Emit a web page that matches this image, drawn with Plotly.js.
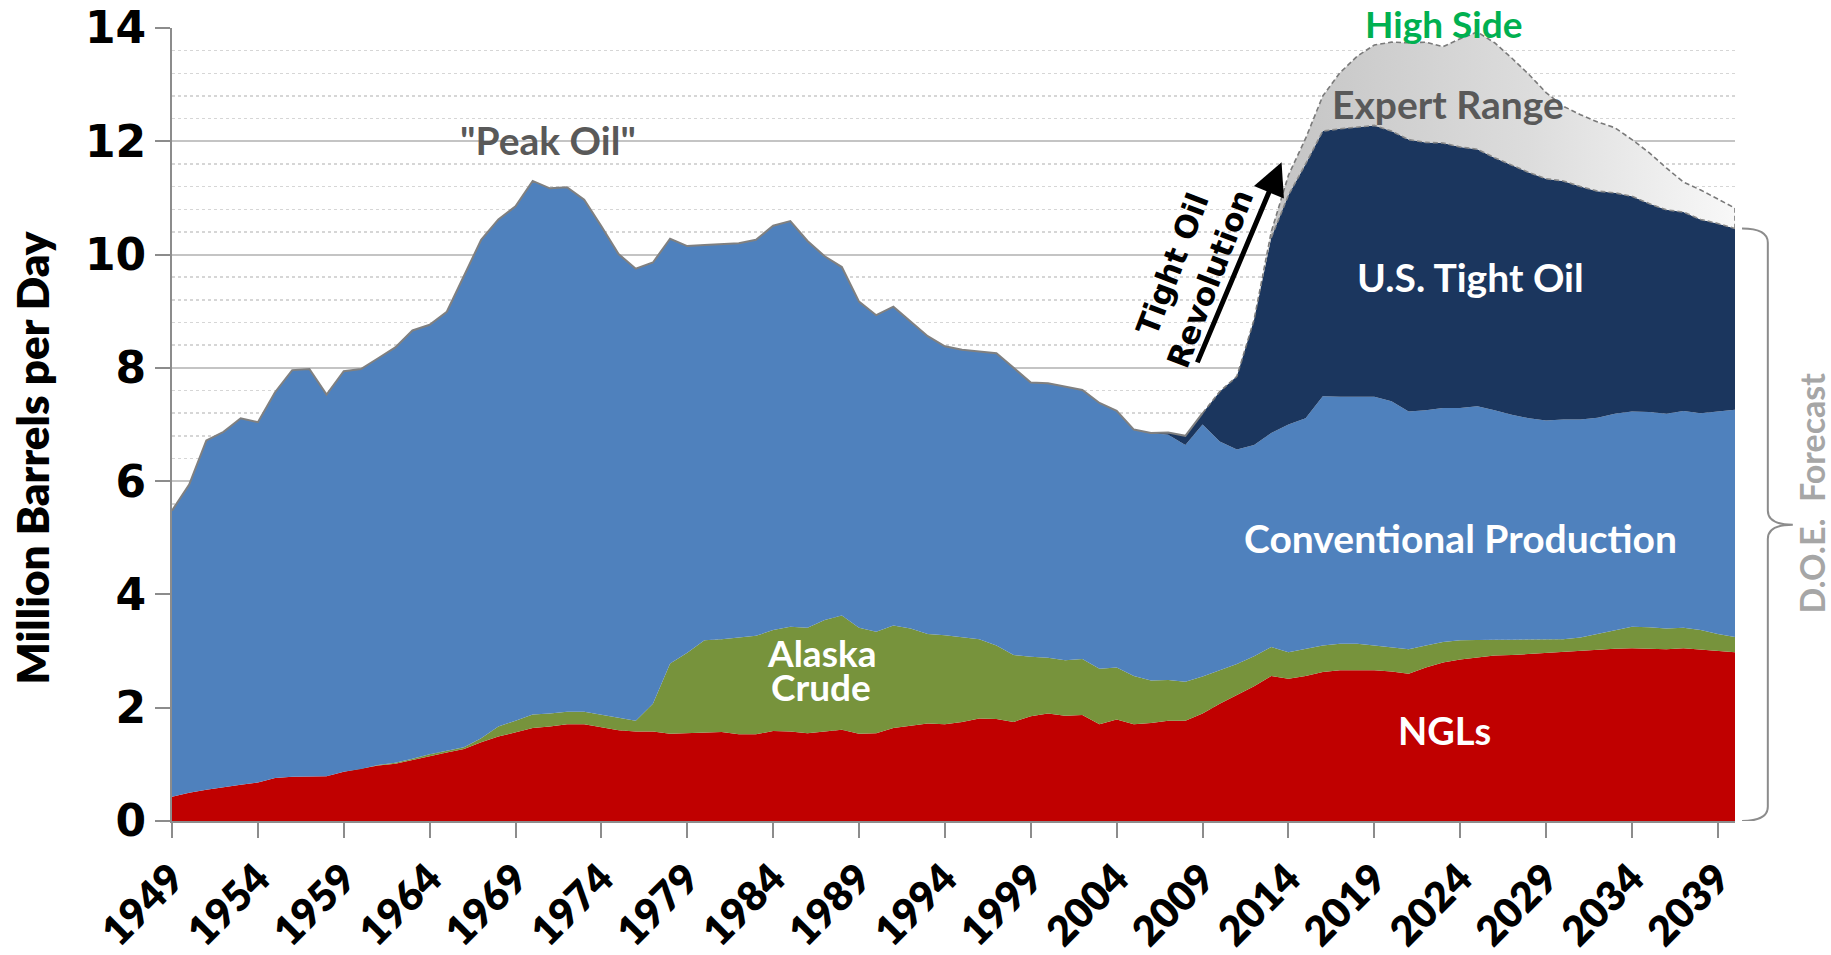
<!DOCTYPE html>
<html>
<head>
<meta charset="utf-8">
<script src="https://cdn.plot.ly/plotly-3.0.1.min.js"></script>
<style>
  html, body { margin: 0; padding: 0; background: #ffffff; }
  #chart { width: 1831px; height: 955px; }
</style>
</head>
<body>
<div id="chart"></div>
<script>
// ---------------- DATA (million barrels per day) ----------------
const firstYear = 1949;
const lastYear = 2040;
const years = [];
for (let y = firstYear; y <= lastYear; y++) years.push(y);

// NGLs (bottom layer), 1949-2040
const ngl = [
  0.43,0.50,0.55,0.60,0.64,0.68,0.76,0.78,0.79,0.79,
  0.87,0.92,0.98,1.01,1.08,1.15,1.21,1.27,1.39,1.49,
  1.57,1.64,1.67,1.71,1.71,1.66,1.60,1.58,1.58,1.54,
  1.55,1.55,1.57,1.53,1.53,1.59,1.58,1.55,1.58,1.61,
  1.54,1.55,1.64,1.68,1.72,1.71,1.75,1.81,1.80,1.75,
  1.85,1.90,1.86,1.87,1.71,1.79,1.71,1.73,1.77,1.77,
  1.90,2.07,2.22,2.38,2.56,2.51,2.56,2.63,2.66,2.66,
  2.66,2.64,2.60,2.71,2.80,2.85,2.89,2.92,2.93,2.95,
  2.96,2.98,3.01,3.03,3.04,3.05,3.04,3.03,3.05,3.03,
  3.01,2.98
];

// Alaska crude, 1949-2040
const alaska = [
  0,0,0,0,0,0,0,0,0,0,
  0,0,0.01,0.02,0.02,0.03,0.03,0.03,0.07,0.18,
  0.20,0.24,0.23,0.22,0.22,0.22,0.22,0.19,0.49,1.24,
  1.42,1.64,1.64,1.71,1.74,1.78,1.85,1.86,1.97,2.02,
  1.87,1.79,1.81,1.72,1.58,1.57,1.49,1.40,1.30,1.18,
  1.05,0.98,0.98,0.99,0.98,0.92,0.85,0.75,0.72,0.69,
  0.65,0.59,0.55,0.53,0.51,0.47,0.48,0.47,0.47,0.47,
  0.44,0.42,0.43,0.39,0.36,0.34,0.31,0.28,0.27,0.25,
  0.24,0.23,0.23,0.27,0.33,0.38,0.38,0.37,0.36,0.34,
  0.29,0.27
];

// Conventional production, 1949-2040
const conventional = [
  5.05,5.44,6.17,6.27,6.47,6.36,6.81,7.18,7.19,6.74,
  7.07,7.06,7.18,7.33,7.56,7.58,7.75,8.32,8.80,8.95,
  9.08,9.42,9.27,9.26,9.04,8.62,8.19,7.98,7.79,7.50,
  7.18,6.98,6.98,6.96,6.99,7.14,7.16,6.83,6.42,6.15,
  5.76,5.59,5.63,5.42,5.26,5.10,5.08,5.08,5.16,5.07,
  4.84,4.85,4.83,4.75,4.69,4.53,4.35,4.37,4.33,4.18,
  4.45,4.04,3.79,3.73,3.78,4.02,4.07,4.40,4.36,4.36,
  4.39,4.35,4.20,4.15,4.13,4.10,4.12,4.05,3.97,3.91,
  3.87,3.88,3.85,3.82,3.82,3.80,3.80,3.79,3.83,3.83,
  3.93,4.01
];

// U.S. tight oil, 2007-2040
const tightYears = [];
for (let y = 2007; y <= lastYear; y++) tightYears.push(y);
const tightOil = [
  0.04,0.16,
  0.20,0.88,1.29,2.21,3.45,4.05,4.49,4.68,4.73,4.76,
  4.79,4.77,4.80,4.73,4.68,4.61,4.54,4.46,4.41,4.34,
  4.27,4.21,4.11,4.00,3.90,3.80,3.68,3.60,3.51,3.42,
  3.32,3.20
];

// Expert range, high side total, 2013-2040
const highYears = [];
for (let y = 2013; y <= lastYear; y++) highYears.push(y);
const highSide = [
  10.40,11.40,12.05,12.80,13.21,13.50,13.70,13.75,13.74,13.75,
  13.67,13.81,13.93,13.74,13.47,13.18,12.86,12.62,12.47,12.34,
  12.24,12.03,11.80,11.53,11.28,11.14,10.98,10.82
];

const yTicks = [0, 2, 4, 6, 8, 10, 12, 14];
const yMax = 14;

// ---------------- DERIVED (for library) ----------------
const tightByYear = {};
tightYears.forEach((y, i) => { tightByYear[y] = tightOil[i]; });
const total = years.map((y, i) => ngl[i] + alaska[i] + conventional[i] + (tightByYear[y] || 0));
const totalByYear = {};
years.forEach((y, i) => { totalByYear[y] = total[i]; });
const expertRange = highYears.map((y, i) => Math.max(0, highSide[i] - totalByYear[y]));

const histX = years.filter(y => y <= 2009);
const histY = histX.map(y => totalByYear[y]);
const dashX = [], dashY = [];
years.filter(y => y >= 2009 && y < 2013).forEach(y => { dashX.push(y); dashY.push(totalByYear[y]); });
highYears.forEach((y, i) => { dashX.push(y); dashY.push(highSide[i]); });
dashX.push(lastYear); dashY.push(totalByYear[lastYear]);
const topTightY = highYears.map(y => totalByYear[y]);

const FONT = 'Lato, "Open Sans", "DejaVu Sans", sans-serif';
const WIDE = '"DejaVu Sans", Verdana, sans-serif';

const traces = [
  { x: years, y: ngl, name: 'NGLs', type: 'scatter', mode: 'lines', stackgroup: 'one',
    line: { width: 0 }, fillcolor: '#C00000' },
  { x: years, y: alaska, name: 'Alaska Crude', type: 'scatter', mode: 'lines', stackgroup: 'one',
    line: { width: 0 }, fillcolor: '#77933C' },
  { x: years, y: conventional, name: 'Conventional Production', type: 'scatter', mode: 'lines', stackgroup: 'one',
    line: { width: 0 }, fillcolor: '#4F81BD' },
  { x: tightYears, y: tightOil, name: 'U.S. Tight Oil', type: 'scatter', mode: 'lines', stackgroup: 'one',
    line: { width: 0 }, fillcolor: '#1B365E' },
  { x: highYears, y: expertRange, name: 'Expert Range', type: 'scatter', mode: 'lines', stackgroup: 'one',
    line: { width: 0 }, fillcolor: '#dddddd',
    fillgradient: { type: 'horizontal', start: 2013, stop: 2040,
      colorscale: [[0, '#c4c4c4'], [0.55, '#dcdcdc'], [1, '#f8f8f8']] } },
  { x: histX, y: histY, name: 'Total', type: 'scatter', mode: 'lines',
    line: { color: '#808080', width: 2 }, showlegend: false },
  { x: dashX, y: dashY, name: 'High Side', type: 'scatter', mode: 'lines',
    line: { color: '#7a7a7a', width: 1.6, dash: '5px,3px' }, showlegend: false },
  { x: highYears, y: topTightY, name: 'Tight top', type: 'scatter', mode: 'lines',
    line: { color: '#8a8a8a', width: 1.6, dash: '5px,3px' }, showlegend: false }
];

const white = '#ffffff';
const annotations = [
  { xref: 'paper', yref: 'y', x: (31.5 - 172) / 1563, y: 6.41, xanchor: 'center', yanchor: 'middle',
    text: 'Million Barrels per Day', showarrow: false, textangle: -90,
    font: { family: FONT, size: 44, color: '#000000', weight: 800 } },
  { x: 1970.9, y: 12.03, text: '<b>"Peak Oil"</b>', showarrow: false,
    font: { family: FONT, size: 39, color: '#595959' } },
  { x: 2023.0, xref: 'x', yref: 'paper', y: 14.08 / yMax, yanchor: 'middle', xanchor: 'center',
    text: '<b>High Side</b>', showarrow: false, borderpad: 0,
    font: { family: FONT, size: 37, color: '#00B050' } },
  { x: 2023.3, y: 12.65, text: '<b>Expert Range</b>', showarrow: false,
    font: { family: FONT, size: 39, color: '#595959' } },
  { x: 2024.6, y: 9.6, text: '<b>U.S. Tight Oil</b>', showarrow: false,
    font: { family: FONT, size: 39, color: white } },
  { x: 2024.0, y: 5.0, text: '<b>Conventional Production</b>', showarrow: false,
    font: { family: FONT, size: 39, color: white } },
  { x: 2023.1, y: 1.61, text: '<b>NGLs</b>', showarrow: false,
    font: { family: FONT, size: 38, color: white } },
  { x: 1986.8, y: 2.97, text: '<b>Alaska</b>', showarrow: false, borderpad: 0,
    font: { family: FONT, size: 37, color: white } },
  { x: 1986.8, y: 2.37, text: '<b>Crude</b>', showarrow: false, borderpad: 0,
    font: { family: FONT, size: 37, color: white } },
  { x: 2008.3, y: 9.7, text: '<b>Tight Oil<br>Revolution</b>', showarrow: false, textangle: -69,
    font: { family: WIDE, size: 31, color: '#000000' }, align: 'center' },
  { x: 2013.6, y: 11.63, ax: 2008.66, ay: 8.07, xref: 'x', yref: 'y', axref: 'x', ayref: 'y',
    text: '', showarrow: true, arrowhead: 2, arrowsize: 1.3, arrowwidth: 5, arrowcolor: '#000000' },
  { xref: 'paper', yref: 'y', x: (1812 - 172) / 1563, y: 5.78, xanchor: 'center', yanchor: 'middle',
    text: '<b>D.O.E.&nbsp; Forecast</b>', showarrow: false,
    textangle: -90, font: { family: FONT, size: 34, color: '#A6A6A6' } }
];

const braceTop = totalByYear[lastYear];
const braceMid = braceTop / 2;
const shapes = [
  { type: 'path', xref: 'paper', yref: 'y',
    path: 'M 1.0045,' + braceTop +
          ' Q 1.021,' + braceTop + ' 1.021,' + (braceTop - 0.25) +
          ' L 1.021,' + (braceMid + 0.25) +
          ' Q 1.021,' + braceMid + ' 1.037,' + braceMid +
          ' Q 1.021,' + braceMid + ' 1.021,' + (braceMid - 0.25) +
          ' L 1.021,0.25' +
          ' Q 1.021,0 1.0045,0',
    line: { color: '#8c8c8c', width: 2 } }
];

const layout = {
  width: 1831, height: 955,
  margin: { l: 172, r: 96, t: 28, b: 134, autoexpand: false },
  paper_bgcolor: '#ffffff', plot_bgcolor: '#ffffff',
  showlegend: false,
  font: { family: FONT, color: '#000000' },
  xaxis: {
    type: 'linear', range: [firstYear, lastYear], tick0: firstYear, dtick: 5,
    showgrid: false, zeroline: false,
    showline: true, linecolor: '#8c8c8c', linewidth: 2,
    ticks: 'outside', ticklen: 15, tickwidth: 2, tickcolor: '#8c8c8c',
    tickangle: -45, tickformat: 'd',
    tickfont: { family: FONT, size: 41, color: '#000000', weight: 800 },
    automargin: false
  },
  yaxis: {
    range: [0, yMax], tickvals: yTicks, ticktext: yTicks.map(String),
    showgrid: true, gridcolor: '#c4c4c4', gridwidth: 2,
    minor: { dtick: 0.4, tick0: 0, showgrid: true, gridcolor: '#d6d6d6', gridwidth: 1.5, griddash: 'dot', ticks: '' },
    zeroline: false,
    showline: true, linecolor: '#8c8c8c', linewidth: 2,
    ticks: 'outside', ticklen: 15, tickwidth: 2, tickcolor: '#8c8c8c',
    tickfont: { family: WIDE, size: 44, color: '#000000', weight: 'bold' },
    automargin: false
  },
  annotations: annotations,
  shapes: shapes
};

Plotly.newPlot('chart', traces, layout, { displayModeBar: false, staticPlot: true });
</script>
</body>
</html>
